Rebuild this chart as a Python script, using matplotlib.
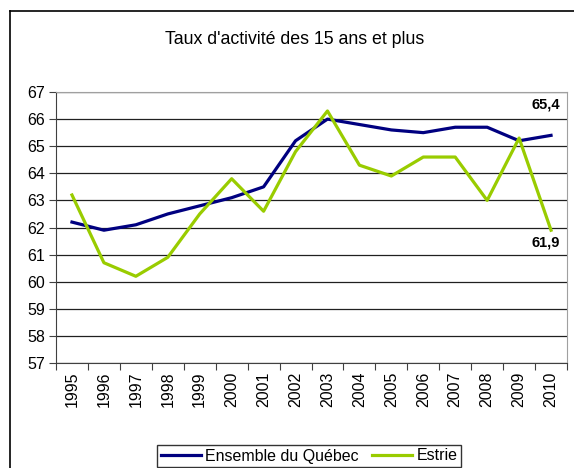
import numpy as np
import matplotlib.pyplot as plt
from matplotlib.lines import Line2D

plt.rcParams['font.family'] = ['Liberation Sans', 'DejaVu Sans']

# Données
annees = [str(a) for a in range(1995, 2011)]
quebec = [62.2, 61.9, 62.1, 62.5, 62.8, 63.1, 63.5, 65.2,
          66.0, 65.8, 65.6, 65.5, 65.7, 65.7, 65.2, 65.4]
estrie = [63.2, 60.7, 60.2, 60.9, 62.5, 63.8, 62.6, 64.8,
          66.3, 64.3, 63.9, 64.6, 64.6, 63.0, 65.3, 61.9]
y_ticks = list(range(57, 68))

W, H = 574, 468
fig = plt.figure(figsize=(W / 100, H / 100), dpi=100)

# cadre extérieur (gauche et haut seulement visibles)
fig.add_artist(Line2D([10 / W, 10 / W], [0, 1 - 11 / H], color='black', lw=1.2,
                      transform=fig.transFigure))
fig.add_artist(Line2D([10 / W, 1], [1 - 11 / H, 1 - 11 / H], color='black', lw=1.2,
                      transform=fig.transFigure))

ax = fig.add_axes([56 / W, (H - 363) / H, (567 - 56) / W, (363 - 92) / H])
x = np.arange(len(annees))

ax.plot(x, quebec, color='#000080', lw=2.3, label='Ensemble du Québec', zorder=3)
ax.plot(x, estrie, color='#99CC00', lw=2.3, label='Estrie', zorder=3)

ax.set_xlim(-0.5, len(annees) - 0.5)
ax.set_ylim(57, 67)
ax.set_yticks(y_ticks)
ax.set_yticklabels([str(v) for v in y_ticks], fontsize=11.5)
ax.yaxis.grid(True, color='#202020', lw=0.9)
ax.set_axisbelow(True)

ax.set_xticks(np.arange(-0.5, len(annees), 1.0))
ax.set_xticklabels([])
ax.set_xticks(x, minor=True)
ax.set_xticklabels(annees, minor=True, rotation=90, fontsize=11.5)
ax.tick_params(axis='x', which='minor', length=0, pad=6)
ax.tick_params(axis='x', which='major', length=5, color='#404040')
ax.tick_params(axis='y', length=5, color='#404040', pad=3)

for s in ['top', 'right']:
    ax.spines[s].set_color('#a0a0a0')
for s in ['left', 'bottom']:
    ax.spines[s].set_color('#404040')

ax.annotate('65,4', (x[-1], quebec[-1]), xytext=(-4, 22), textcoords='offset points',
            ha='center', va='center', fontsize=10.5, fontweight='bold')
ax.annotate('61,9', (x[-1], estrie[-1]), xytext=(-4, -9), textcoords='offset points',
            ha='center', va='center', fontsize=10.5, fontweight='bold')

fig.text(295 / W, 1 - 40 / H, "Taux d'activité des 15 ans et plus", ha='center',
         va='center', fontsize=12.8)

leg = fig.legend(loc='center', bbox_to_anchor=(309 / W, 1 - 456 / H), ncol=2,
                 fontsize=11.5, frameon=True, fancybox=False, handlelength=2.5,
                 handletextpad=0.3, columnspacing=0.8, borderpad=0.25,
                 edgecolor='black')
leg.get_frame().set_linewidth(1.0)

fig.savefig('out.png', dpi=100, facecolor='white')
